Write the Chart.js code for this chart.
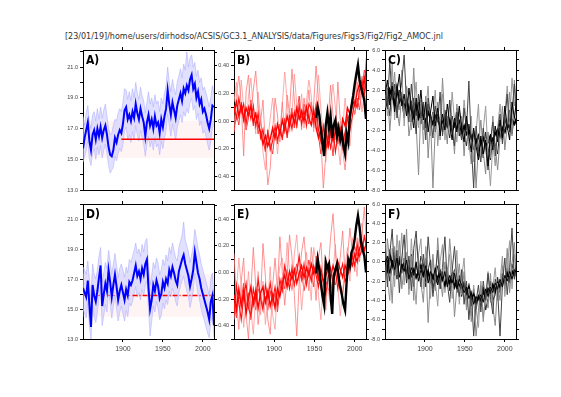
<!DOCTYPE html>
<html>
<head>
<meta charset="utf-8">
<script src="https://cdn.jsdelivr.net/npm/chart.js@4.4.0/dist/chart.umd.min.js"></script>
<style>
body { margin:0; background:#fff; width:561px; height:397px; overflow:hidden; position:relative; }
.lbl { position:absolute; font: bold 12px 'DejaVu Sans Condensed', 'Liberation Sans Narrow', 'Liberation Sans', sans-serif; color:#000; }
#title { position:absolute; left:65px; top:32px; font: 8px 'DejaVu Sans', sans-serif; color:#333; white-space:nowrap; }
</style>
</head>
<body>
<div id="title">[23/01/19]/home/users/dirhodso/ACSIS/GC3.1_ANALYSIS/data/Figures/Figs3/Fig2/Fig2_AMOC.jnl</div>
<script>
// ---- data ----
var years2 = [1850,1852,1854,1856,1858,1860,1862,1864,1866,1868,1870,1872,1874,1876,1878,1880,1882,1884,1886,1888,
  1890,1892,1894,1896,1898,1900,1902,1904,1906,1908,1910,1912,1914,1916,1918,1920,1922,1924,1926,1928,
  1930,1932,1934,1936,1938,1940,1942,1944,1946,1948,1950,1952,1954,1956,1958,1960,1962,1964,1966,1968,
  1970,1972,1974,1976,1978,1980,1982,1984,1986,1988,1990,1992,1994,1996,1998,2000,2002,2004,2006,2008,
  2010,2012,2014];
var years3 = [1850,1853,1856,1859,1862,1865,1868,1871, 1874,1877,1880,1883,1886,1889,1892,1895,
  1898,1901,1904,1907,1910,1913,1916,1919, 1922,1925,1928,1931,1934,1937,1940,1943,
  1946,1949,1952,1955,1958,1961,1964,1967, 1970,1973,1976,1979,1982,1985,1988,1991,
  1994,1997,2000,2003,2006,2009,2012,2015];
var obsYears = [1952,1954,1956,1958,1960,1962,1964,1966,1968,1970,1972,1974,1976,1978,1980,1982,
  1984,1986,1988,1990,1992,1994,1996,1998,2000,2002,2004,2006,2008,2010,2012,2014];
var xRange = [1850, 2014];
var xTicks = [1900, 1950, 2000];
var tempTicks = [13,14,15,16,17,18,19,20,21,22];
var amocTicks = [-0.5,-0.4,-0.3,-0.2,-0.1,0,0.1,0.2,0.3,0.4,0.5];
var idxTicks = [-8,-7,-6,-5,-4,-3,-2,-1,0,1,2,3,4,5,6];

// panel A
var blueA = [15.7,16.4,16.9,17.4,16.2,15.6,16.6,16.9,16.3,17.0,
  16.5,17.1,16.4,16.9,17.2,16.6,15.8,15.3,15.2,15.6,
  16.4,16.1,16.6,16.9,16.7,17.3,18.2,18.4,17.6,17.9,
  17.5,18.1,17.7,18.6,18.0,17.6,18.3,17.8,17.4,16.5,
  17.4,17.9,17.2,17.6,17.0,17.8,17.2,17.4,16.7,17.6,
  17.1,17.8,18.3,19.5,18.6,17.9,18.7,18.2,17.7,18.5,
  18.9,19.3,18.8,19.6,19.3,19.8,19.5,20.2,20.5,19.6,
  19.9,19.0,19.4,18.6,18.9,18.1,18.3,17.9,17.4,17.0,
  17.6,18.5,18.4];
var upperA = [17.8,17.2,18.0,18.5,17.4,17.0,17.9,18.1,17.5,18.3,
  17.6,18.4,17.7,18.2,18.6,17.8,17.0,16.6,16.7,17.2,
  17.6,17.5,18.0,18.3,18.1,18.7,19.6,19.5,18.9,19.4,
  18.8,19.6,19.0,20.0,19.3,18.9,19.7,19.1,18.8,18.0,
  18.7,19.4,18.6,19.0,18.4,19.2,18.6,18.8,18.1,19.0,
  18.6,19.3,19.8,21.0,20.0,19.4,20.2,19.6,19.2,20.0,
  20.4,20.9,20.3,21.2,20.8,22.0,21.0,21.6,21.8,21.0,
  21.3,20.4,20.8,20.0,20.3,19.5,19.7,19.3,18.9,18.4,
  19.0,19.8,19.3];
var lowerA = [14.8,15.2,15.6,16.2,15.0,14.6,15.4,15.7,15.0,15.8,
  15.3,15.9,15.1,15.6,16.0,15.4,14.6,14.1,14.3,14.5,
  15.2,14.9,15.4,15.7,15.5,16.0,16.9,17.1,16.3,16.6,
  16.1,16.8,16.3,17.2,16.6,16.2,16.9,16.4,16.0,15.2,
  16.0,16.5,15.8,16.2,15.6,16.4,15.8,16.0,15.3,16.2,
  15.7,16.4,16.9,18.0,17.2,16.5,17.3,16.8,16.3,17.1,
  17.5,17.9,17.4,18.1,17.8,18.3,18.0,18.7,19.0,18.2,
  18.5,17.6,18.0,17.2,17.5,16.7,16.9,16.5,16.0,15.6,
  16.2,17.1,17.2];
var pinkA = [15.08, 17.51];
var redYearsA = [1898, 2014];
var redLevelA = 16.3;

// panel D
var blueD = [16.4,16.1,15.8,16.9,15.3,13.8,16.6,15.9,15.5,16.2,
  17.1,17.9,15.2,16.0,16.7,16.2,17.6,16.8,15.8,16.6,
  17.3,16.5,15.6,16.2,16.6,16.1,15.6,16.3,15.9,16.8,
  16.6,16.9,17.4,17.9,17.2,17.5,17.0,17.7,17.3,18.0,
  18.3,16.4,15.0,15.6,16.6,16.2,16.9,16.5,15.7,16.0,
  16.8,16.4,17.0,16.7,17.6,17.2,17.8,17.4,16.9,16.6,
  17.5,17.9,18.3,18.6,18.0,17.6,17.2,16.5,17.0,17.6,
  18.8,18.1,17.4,17.0,16.4,16.0,15.6,15.2,14.8,14.3,
  15.5,15.9,13.9];
var upperD = [17.8,17.6,17.3,18.2,16.9,15.6,18.0,17.3,17.0,17.6,
  18.5,19.1,16.8,17.4,18.1,17.7,18.9,18.2,17.3,18.0,
  18.7,17.9,17.1,17.7,18.0,17.6,17.1,17.8,17.4,18.3,
  18.1,18.5,18.9,19.4,18.7,19.0,18.5,19.3,18.8,19.5,
  19.7,17.9,16.6,17.2,18.1,17.7,18.4,18.0,17.3,17.6,
  18.3,17.9,18.6,18.2,19.1,18.7,19.4,18.9,18.4,18.2,
  19.1,19.5,19.9,20.8,19.6,19.2,18.8,18.1,18.6,19.2,
  20.3,19.7,19.0,18.6,18.0,17.6,17.2,16.8,16.4,15.9,
  17.0,17.4,15.4];
var lowerD = [15.0,14.7,14.4,15.5,13.9,13.0,15.2,14.5,14.1,14.8,
  15.7,16.5,13.9,14.6,15.3,14.8,16.2,15.4,14.4,15.2,
  15.9,15.1,14.2,14.8,15.2,14.7,14.2,14.9,14.5,15.4,
  15.2,15.5,16.0,16.5,15.8,16.1,15.6,16.3,15.9,16.6,
  16.9,15.0,13.2,14.2,15.2,14.8,15.5,15.1,14.3,14.6,
  15.4,15.0,15.6,15.3,16.2,15.8,16.4,16.0,15.5,15.2,
  16.1,16.5,16.9,17.2,16.6,16.2,15.8,15.1,15.6,16.2,
  17.4,16.7,16.0,15.6,15.0,14.6,14.2,13.8,13.4,13.1,
  14.1,14.5,13.1];
var pinkD = [14.49, 17.35];
var redYearsD = [1912, 2014];
var redDotYearsD = [1850, 1912];
var redLevelD = 15.9;

// panel B (red members + black obs)
var obsB = [-0.8,0.3,-0.5,-2.0,-3.4,-4.6,-1.5,-0.3,-1.8,-0.6,-2.8,-1.5,-1.0,-2.6,-1.8,-3.0,
  -2.2,-3.6,-4.4,-2.4,-3.2,-0.6,0.4,1.4,2.6,3.6,4.5,3.0,2.2,1.6,0.9,-0.9];
var B1 = [-0.3,0.8,-0.6,0.5,-1.0,0.2,-0.5,0.4, -1.2,-0.4,-1.5,-2.2,-3.4,-2.6,-3.6,-2.9,
  -1.8,-2.8,-1.4,-2.4,-1.0,-2.0,-0.6,-1.6, -0.4,-1.3,0.2,-0.9,-0.1,-1.1,0.3,-0.8,
  -1.5,0.0,-1.8,-2.8,-1.9,-3.4,-2.1,-3.6, -2.0,-3.1,-2.2,-1.4,-2.9,-0.9,-1.6,0.2,
  -0.4,1.0,0.4,1.8,2.6,1.9,3.2,1.5];
var B2 = [0.5,-0.8,1.2,-0.2,0.6,-1.4,0.3,-0.9, 0.4,-1.6,-0.3,-2.8,-1.9,-3.8,-2.2,-4.0,
  -3.1,-1.6,-3.0,-2.0,-2.8,-1.2,-2.5,-0.6, -1.9,-0.2,-1.6,0.4,-1.4,0.0,-1.6,0.6,
  0.1,-1.2,0.5,-2.0,-3.2,-1.6,-4.0,-2.6, -3.8,-2.0,-4.2,-2.6,-1.8,-3.4,-2.2,-0.8,
  -2.0,-0.6,0.9,0.2,2.0,3.0,1.6,5.8];
var B3 = [-1.6,1.5,3.4,0.6,-4.6,1.8,3.5,-0.4, 2.0,3.9,0.5,-1.2,1.0,-3.5,-7.5,-5.8,
  -2.0,1.2,-0.5,-3.2,0.8,-2.4,1.5,-0.3, 4.1,1.0,-1.8,0.8,-2.0,1.2,-0.6,2.0,
  -1.0,0.6,4.4,1.0,-3.0,-7.8,-4.5,-1.0, 2.5,-0.5,-3.0,2.8,-1.0,-4.0,-6.0,-3.5,
  -1.5,0.8,-0.5,2.8,1.0,3.4,0.5,2.0];
var B4 = [0.8,2.8,-0.5,3.0,0.2,-1.8,1.4,3.2, 0.0,-2.4,1.8,-0.8,-4.2,-6.0,-3.0,-0.8,
  1.2,-1.4,-4.4,-2.0,0.5,3.8,1.0,-2.2, -0.5,3.6,0.5,-1.0,1.6,-1.8,0.9,3.0,
  1.4,-2.2,0.6,3.5,0.0,-2.4,-5.2,-2.0, 0.5,2.6,0.2,-3.4,-5.5,-2.0,1.2,-1.0,
  -3.6,-1.0,1.4,3.8,2.2,-0.2,1.8,3.6];
var B5 = [-2.2,-0.4,-1.5,0.8,-0.6,-2.0,-0.8,1.0, -1.6,-0.2,-2.4,-1.0,-3.0,-4.2,-2.0,-3.4,
  -4.4,-2.2,-3.4,-1.4,-3.0,-0.8,-2.8,-1.2, 0.2,-1.8,-0.4,1.4,-0.8,0.6,-0.2,-1.4,
  0.8,-1.8,-0.6,-2.6,-4.4,-3.0,-1.6,-3.8, -2.4,-4.6,-1.6,-3.4,-2.0,-4.0,-2.6,-0.4,
  -1.2,0.4,-0.4,1.2,0.0,2.2,4.0,2.8];

// panel E
var obsE = [-1.2,0.3,-0.8,-2.2,-3.6,-4.5,0.0,-0.6,-0.2,-3.5,-5.4,-1.4,-0.8,-0.2,-1.6,-2.6,
  -3.4,-4.4,-5.0,-2.0,0.2,-0.4,1.0,1.4,2.4,3.8,4.8,3.6,2.0,1.2,0.6,-1.1];
var E1 = [-3.4,-5.0,-2.8,-4.6,-3.0,-5.4,-3.8,-2.6, -4.4,-3.0,-4.8,-3.2,-2.6,-4.2,-3.0,-4.6,
  -3.4,-4.8,-2.8,-3.6,-2.2,-1.4,-2.6,-1.0, -1.8,-0.8,-2.2,-1.2,-0.4,-1.6,-0.6,-1.4,
  -0.2,-1.2,-0.6,-1.8,-1.0,-2.0,-1.4,-0.8, -1.6,-0.4,-1.2,0.0,-0.8,-1.6,-0.4,-1.0,
  0.2,-0.4,0.8,0.0,1.4,2.0,1.2,2.2];
var E2 = [-5.6,-2.4,-4.2,-6.0,-3.6,-2.2,-4.8,-5.6, -2.8,-4.0,-1.8,-3.8,-5.0,-2.4,-3.8,-2.2,
  -4.0,-2.6,-4.4,-1.8,-3.0,-0.4,-1.6,-2.8, -0.6,-2.4,-1.0,0.6,-1.8,-0.2,-2.4,-0.8,
  -2.0,-0.4,-1.4,-2.6,-0.6,-2.2,-3.4,-1.6, -0.6,-2.4,-1.0,-2.8,-1.2,-0.2,-2.0,-1.4,
  -0.6,0.6,-0.4,1.8,0.6,1.2,2.6,1.6];
var E3 = [0.9,-4.0,-7.0,-2.0,0.4,-5.5,-8.0,-3.0, 1.5,-2.5,-6.5,-4.0,1.9,-1.5,-6.0,-7.5,
  -2.5,0.4,-3.0,2.6,-1.0,-4.5,-1.5,2.8, 0.5,-3.5,-7.7,-2.0,1.0,2.6,-0.5,-3.0,
  1.5,-1.0,-4.0,0.5,2.0,-2.5,-5.0,-1.0, 2.5,5.0,1.0,-2.0,0.5,3.2,-1.5,0.5,
  3.5,1.0,-1.0,2.5,0.0,3.0,5.7,1.0];
var E4 = [-6.0,-3.0,0.4,-2.5,-6.8,-4.0,-1.0,-5.0, -7.5,-3.5,-1.0,-5.5,-2.0,-6.5,-4.0,-0.5,
  -5.5,-7.0,-2.5,-0.5,0.4,-2.5,2.0,-1.0, -3.0,0.8,2.8,-1.0,-5.0,-2.0,1.0,-1.5,
  -4.0,1.5,0.0,-3.5,-6.0,-2.0,0.5,-3.0, -4.5,-1.0,1.8,-2.5,-5.6,-3.0,-0.5,1.5,
  -2.0,2.5,0.5,-1.5,3.0,4.0,0.0,3.5];
var E5 = [-4.2,-5.8,-3.6,-4.0,-2.2,-4.6,-3.2,-6.0, -3.6,-5.0,-2.8,-3.4,-4.6,-3.6,-5.0,-3.0,
  -4.6,-3.2,-5.2,-3.0,-1.6,-2.8,-0.8,-2.0, -2.8,-1.2,-0.2,-2.0,-1.0,-3.0,-1.6,0.2,
  -1.2,-2.6,0.6,-1.4,-2.8,-3.8,-2.0,-2.8, -3.2,-1.8,-2.4,-0.8,-2.2,-3.4,-1.2,-0.2,
  -1.2,0.4,1.6,0.6,2.4,1.0,2.8,0.8];

// panel C
var C1 = [1.5,3.0,0.5,2.4,-0.2,1.8,3.6,0.4, 1.6,-0.6,2.2,0.0,-1.8,1.2,-0.4,2.0,
  -1.0,0.8,-2.2,-0.2,1.4,-1.6,0.2,-2.6, -0.4,-2.0,0.6,-1.4,-3.0,-0.8,-2.2,0.4,
  -1.8,-3.2,-0.6,-2.6,-4.2,-1.8,-3.6,-5.0, -2.6,-4.4,-3.0,-5.6,-2.4,-4.0,-1.6,-3.2,
  -1.0,-2.8,0.4,-1.6,-3.0,0.8,-0.8,1.2];
var C2 = [2.8,0.2,4.9,1.0,2.6,-0.8,1.4,2.8, 5.5,0.6,-1.2,2.6,0.2,-2.4,1.6,-0.8,
  0.8,-3.0,1.2,-0.6,-2.8,0.4,-1.2,1.8, -2.6,-0.4,-1.6,1.0,-2.0,-3.6,-0.2,-1.8,
  -3.0,0.2,-2.0,2.9,-3.4,-7.8,-1.6,-4.0, -5.2,-1.8,-3.8,-6.0,-3.0,-1.2,-4.6,-2.2,
  -0.4,-3.4,-1.0,1.6,-2.2,-0.2,2.6,-1.4];
var C3 = [0.2,2.2,-2.1,1.0,3.8,0.0,-1.6,1.8, -0.4,1.6,-2.6,-0.8,4.2,-1.4,-6.5,0.6,
  -2.0,1.4,-4.8,-0.8,-7.8,-1.6,0.8,-3.0, 3.2,-1.2,-3.4,1.0,-1.2,-4.4,0.6,-2.0,
  -0.6,-4.6,-1.0,-3.2,-5.4,-2.0,-7.8,-3.6, -1.0,-4.2,-6.4,-2.2,-4.8,-0.6,-3.6,-6.0,
  -2.8,0.4,-4.0,-1.6,1.8,-2.6,3.0,-0.4];
var C4 = [1.0,0.4,2.0,1.4,0.6,2.2,0.8,1.2, 0.2,1.0,-0.2,0.6,-0.6,0.4,-0.8,-0.2,
  -0.6,-1.2,-0.2,-0.8,-1.4,-0.6,-1.0,-1.6, -1.2,-0.8,-1.6,-1.0,-2.0,-1.4,-1.8,-1.2,
  -2.2,-1.6,-2.4,-2.0,-2.8,-2.4,-3.2,-2.6, -3.4,-2.8,-3.6,-3.2,-2.6,-3.0,-2.4,-2.0,
  -2.6,-1.8,-2.2,-1.4,-1.8,-1.0,-1.4,-0.8];
var C5 = [3.0,-0.6,1.2,4.6,-1.0,2.6,0.0,4.0, -1.6,2.4,1.0,-2.0,0.6,2.8,-1.8,1.0,
  -3.4,0.0,2.4,-2.6,-0.4,2.0,-3.6,-0.6, 1.6,-3.0,-0.6,-2.4,1.8,-1.0,-3.2,0.2,
  -2.8,1.0,-1.4,-4.0,-0.6,-5.2,-2.2,0.6, -4.8,-2.0,0.4,-4.4,-7.6,-3.4,-5.6,-1.8,
  0.6,-2.2,-0.6,2.4,-1.2,3.2,0.4,2.0];
var C6 = [2.2,1.2,-0.6,2.8,1.6,-0.2,2.0,0.8, -0.8,1.4,0.2,-1.2,1.2,-0.6,0.8,-1.4,
  0.4,-1.8,0.6,-1.2,-0.2,-2.2,-0.4,-1.0, -2.2,0.0,-1.4,-2.8,-0.6,-1.8,0.2,-2.6,
  -1.2,-2.4,-3.6,-1.4,-2.6,-4.0,-2.8,-4.6, -3.0,-4.8,-2.2,-3.8,-5.0,-2.8,-3.4,-4.4,
  -1.8,-3.0,-0.8,-2.0,0.0,-2.4,-0.6,-1.6];

// panel F
var F1 = [-0.4,0.6,-1.2,0.2,-0.8,0.4,-1.6,-0.2, -1.0,0.2,-1.8,-0.6,-1.4,0.0,-2.0,-0.8,
  -1.6,-0.4,-2.2,-1.0,-1.8,-0.6,-2.4,-1.2, -2.0,-1.0,-2.6,-1.4,-2.2,-1.2,-2.8,-1.8,
  -2.4,-3.2,-2.6,-3.8,-3.2,-4.4,-3.6,-4.0, -3.4,-4.2,-2.8,-3.6,-2.6,-3.2,-2.2,-2.8,
  -1.8,-2.6,-1.4,-2.0,-1.0,-1.8,-0.8,-1.2];
var F2 = [1.8,-2.6,0.8,3.4,-1.4,1.2,-3.2,0.4, 2.8,-1.6,0.6,-3.0,1.4,3.2,-0.8,-2.6,
  0.8,-1.8,2.6,-0.4,-3.6,-1.2,1.2,-2.4, -0.6,2.6,-2.2,-4.2,-1.0,1.6,-1.8,-3.6,
  -0.8,-4.4,-2.0,-6.0,-3.0,-7.7,-4.2,-2.4, -5.2,-2.0,-4.0,-1.2,-3.6,-5.4,-1.8,-3.0,
  -7.7,-2.4,0.4,-3.4,-0.6,3.5,-1.8,0.2];
var F3 = [-3.4,2.4,0.0,-4.3,1.6,-1.4,2.2,-2.8, -0.6,3.4,-2.8,0.6,-4.0,2.2,0.2,-2.2,
  -4.2,0.4,-6.3,-1.6,0.8,-3.0,2.5,-1.4, -3.6,0.0,-2.4,2.4,-0.8,-5.7,-2.6,-0.2,
  -3.4,-1.0,-5.0,-2.8,-6.2,-3.6,-7.7,-5.0, -2.4,-6.2,-3.0,-4.8,-1.2,-4.6,-6.6,-2.2,
  -4.0,-0.4,-2.8,1.4,-3.2,-0.2,2.0,-2.6];
var F4 = [0.2,-0.8,0.8,-0.4,0.4,-1.0,0.2,-0.6, -0.2,-1.2,-0.6,-1.4,-0.8,-1.6,-1.0,-0.4,
  -1.2,-1.8,-1.0,-2.0,-1.4,-2.2,-1.6,-1.0, -1.8,-2.4,-1.6,-2.2,-1.4,-2.6,-2.0,-2.4,
  -2.8,-2.2,-3.2,-2.6,-3.8,-3.4,-4.2,-3.6, -4.0,-3.0,-3.6,-2.8,-3.2,-2.4,-3.0,-2.2,
  -2.6,-1.8,-2.2,-1.2,-1.8,-1.0,-1.4,-0.6];
var F5 = [2.2,-1.8,-4.0,1.4,-2.6,2.8,-0.4,3.0, -2.4,1.0,-3.4,2.4,-1.8,-4.4,0.8,2.4,
  -2.8,1.6,-0.8,-3.8,0.4,-2.0,-4.6,0.0, 1.8,-3.2,-1.0,0.8,-3.8,-1.6,1.2,-4.4,
  -1.6,0.4,-4.6,-2.2,-5.6,-2.4,-4.8,-6.8, -2.0,-5.8,-3.6,-1.0,-4.2,-2.6,-0.6,-4.0,
  -2.0,0.6,-3.6,-1.0,2.2,-2.8,0.8,-1.8];
var F6 = [-1.2,0.2,-2.0,-0.6,1.0,-1.8,0.6,-1.2, 0.4,-2.2,-0.4,0.8,-2.6,-0.2,-1.4,0.6,
  -0.2,-2.6,-0.8,0.2,-2.8,-1.4,-0.4,-2.8, -1.0,-2.8,-0.6,-3.0,-1.8,-0.8,-3.2,-1.4,
  -3.6,-2.0,-4.0,-3.0,-4.6,-2.8,-5.0,-3.4, -4.6,-2.6,-5.0,-3.8,-2.0,-4.0,-3.4,-1.6,
  -3.2,-1.2,-2.6,-0.6,-2.2,-0.2,-1.6,0.0];

// ---- drawing ----
Chart.defaults.font.family = "'Liberation Sans', Arial, sans-serif";
Chart.defaults.animation = false;

function pts(xs, ys) {
  return xs.map(function(x, i){ return {x: x, y: ys[i]}; });
}
function flat(xs, v) {
  return xs.map(function(x){ return {x: x, y: v}; });
}

function fmtTemp(v) { return (v % 2 === 1) ? v.toFixed(1) : ''; }
function fmtAmoc(v) {
  var k = Math.round(v * 10);
  if (k % 2 !== 0 || Math.abs(k) > 4) return '';
  return k === 0 ? '0.00' : (k / 10).toFixed(2);
}
function fmtIdx(v) { return (v % 2 === 0) ? v.toFixed(1) : ''; }
function fmtNone() { return ''; }

function yAxis(pos, range, ticks, fmt, w) {
  return {
    type: 'linear', position: pos, min: range[0], max: range[1],
    afterBuildTicks: function(ax){ ax.ticks = ticks.map(function(v){ return {value: v}; }); },
    afterFit: function(ax){ ax.width = w; },
    grid: {drawOnChartArea: false, drawTicks: true, tickLength: 3, color: '#000', lineWidth: 1},
    border: {display: true, color: '#000', width: 1},
    ticks: {font: {size: 5.5}, color: '#444', padding: 2, autoSkip: false, maxRotation: 0,
      callback: function(v){ return fmt(v); }}
  };
}
function xAxis(pos, labels, h) {
  return {
    type: 'linear', position: pos, min: xRange[0], max: xRange[1],
    afterBuildTicks: function(ax){ ax.ticks = xTicks.map(function(v){ return {value: v}; }); },
    afterFit: function(ax){ ax.height = h; },
    grid: {drawOnChartArea: false, drawTicks: true, tickLength: 3, color: '#000', lineWidth: 1},
    border: {display: true, color: '#000', width: 1},
    ticks: {font: {size: 7}, color: '#444', padding: 3, autoSkip: false, maxRotation: 0,
      callback: function(v){ return labels ? String(v) : ''; }}
  };
}

function panel(name, box, sets, yl, yr, bottomLabels) {
  var cv = document.createElement('canvas');
  cv.width = box[2] + 52; cv.height = box[3] + 36;
  cv.style.position = 'absolute';
  cv.style.left = (box[0] - 40) + 'px';
  cv.style.top = (box[1] - 12) + 'px';
  cv.style.width = cv.width + 'px';
  cv.style.height = cv.height + 'px';
  document.body.appendChild(cv);

  var lab = document.createElement('div');
  lab.className = 'lbl';
  lab.textContent = name + ')';
  lab.style.left = (box[0] + 3) + 'px';
  lab.style.top = (box[1] + 3) + 'px';

  new Chart(cv.getContext('2d'), {
    type: 'line',
    data: {datasets: sets},
    options: {
      responsive: false, events: [],
      layout: {padding: 0},
      elements: {point: {radius: 0}, line: {tension: 0}},
      plugins: {legend: {display: false}, tooltip: {enabled: false}},
      scales: {
        x: xAxis('bottom', bottomLabels, 24),
        xt: xAxis('top', false, 12),
        y: yAxis('left', yl.range, yl.ticks, yl.fmt, 40),
        yr: yAxis('right', yr.range, yr.ticks, fmtNone, 12)
      }
    }
  });
  document.body.appendChild(lab);
}

function tempSets(blue, upper, lower, pink, redSets) {
  var s = [
    {data: pts(years2, blue), borderColor: '#0000ff', borderWidth: 2, fill: false, order: 0},
    {data: pts(years2, upper), borderColor: 'rgba(175,175,255,0.6)', borderWidth: 1,
      backgroundColor: 'rgba(195,195,255,0.5)', fill: '+1', order: 2},
    {data: pts(years2, lower), borderColor: 'rgba(175,175,255,0.6)', borderWidth: 1, fill: false, order: 2},
    {data: flat(xRange, pink[1]), borderWidth: 0, borderColor: 'rgba(0,0,0,0)',
      backgroundColor: 'rgba(255,220,220,0.3)', fill: {value: pink[0]}, order: 3}
  ];
  return s.concat(redSets);
}

function memberSets(members, colors, widths, obs) {
  var s = [];
  if (obs) s.push({data: pts(obsYears, obs), borderColor: '#000', borderWidth: 2.4, fill: false, order: 0});
  members.forEach(function(m, i){
    s.push({data: pts(years3, m), borderColor: colors[i], borderWidth: widths[i], fill: false, order: 1 + i});
  });
  return s;
}

var tempAxis = {range: [13, 22.12], ticks: tempTicks, fmt: fmtTemp};
var tempAxisD = {range: [13, 22.0], ticks: tempTicks, fmt: fmtTemp};
var amocAxis = {range: [-0.5, 0.515], ticks: amocTicks, fmt: fmtAmoc};
var idxAxis = {range: [-8, 6], ticks: idxTicks, fmt: fmtIdx};
var idxAxisNo = {range: [-8, 6], ticks: idxTicks, fmt: fmtNone};
var amocAxisNo = {range: [-0.5, 0.515], ticks: amocTicks, fmt: fmtNone};

var redCols = ['#ff0000', '#ff1010', 'rgba(255,120,120,0.8)', 'rgba(255,150,150,0.8)', '#ff3c3c'];
var redW = [1.4, 1.1, 1, 1, 1];
var greyCols = ['#000', '#444', '#8a8a8a', '#000', '#9a9a9a', '#222'];
var greyW = [1, 1, 1, 2, 1, 1];

panel('A', [83, 50, 131, 140],
  tempSets(blueA, upperA, lowerA, pinkA, [
    {data: flat(redYearsA, redLevelA), borderColor: '#ff0000', borderWidth: 1.5, fill: false, order: 1}
  ]), tempAxis, amocAxisNo, false);

panel('B', [234, 50, 132, 140],
  memberSets([B1, B2, B3, B4, B5], redCols, redW, obsB).map(function(d){ d.yAxisID = 'yr'; return d; }),
  amocAxis, idxAxisNo, false);

panel('C', [385, 50, 131, 140],
  memberSets([C1, C2, C3, C4, C5, C6], greyCols, greyW, null),
  idxAxis, idxAxisNo, false);

panel('D', [83, 204, 131, 135],
  tempSets(blueD, upperD, lowerD, pinkD, [
    {data: flat(redYearsD, redLevelD), borderColor: '#ff0000', borderWidth: 1.3, borderDash: [5, 2, 1, 2], fill: false, order: 1},
    {data: flat(redDotYearsD, redLevelD), borderColor: 'rgba(255,60,60,0.7)', borderWidth: 1, borderDash: [2, 3], fill: false, order: 1}
  ]), tempAxisD, amocAxisNo, true);

panel('E', [234, 204, 132, 135],
  memberSets([E1, E2, E3, E4, E5], redCols, redW, obsE).map(function(d){ d.yAxisID = 'yr'; return d; }),
  amocAxis, idxAxisNo, true);

panel('F', [385, 204, 131, 135],
  memberSets([F1, F2, F3, F4, F5, F6], greyCols, greyW, null),
  idxAxis, idxAxisNo, true);
</script>
</body>
</html>
